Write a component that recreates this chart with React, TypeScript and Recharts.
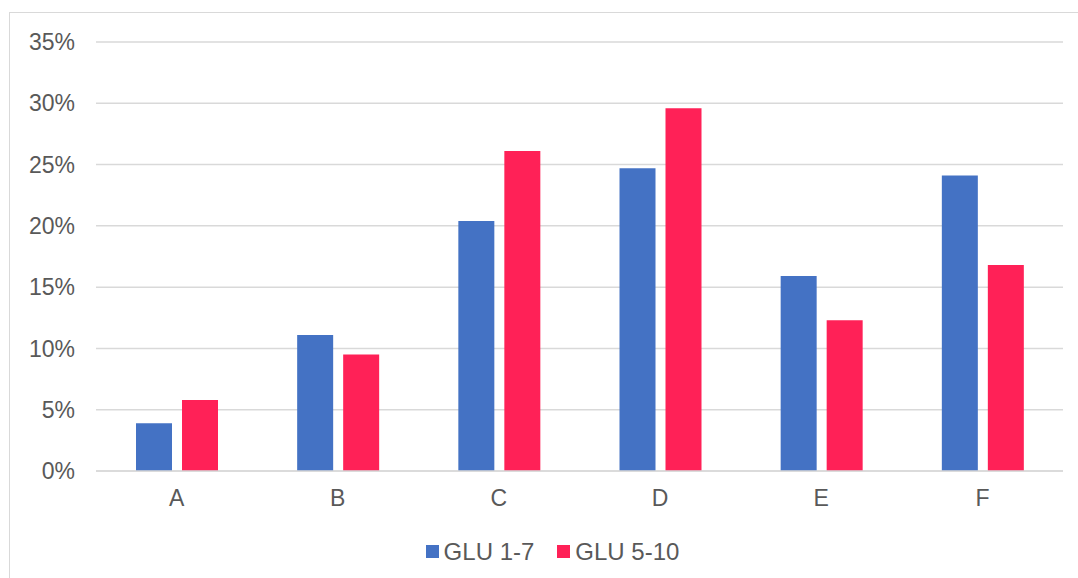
import React from "react";
import {
  BarChart,
  Bar,
  XAxis,
  YAxis,
  CartesianGrid,
  Legend,
} from "recharts";

const categories = ["A", "B", "C", "D", "E", "F"];
const glu17 = [3.9, 11.1, 20.4, 24.7, 15.9, 24.1];
const glu510 = [5.8, 9.5, 26.1, 29.6, 12.3, 16.8];
const yTicks = [0, 5, 10, 15, 20, 25, 30, 35];

const data = categories.map((c, i) => ({
  name: c,
  glu17: glu17[i],
  glu510: glu510[i],
}));

const FONT = '"Liberation Sans", Arial, sans-serif';
const TEXT = "#595959";

function renderLegend(props: any) {
  const { payload } = props;
  return (
    <div
      style={{
        display: "flex",
        justifyContent: "center",
        alignItems: "center",
        fontFamily: FONT,
        paddingTop: 17,
        paddingLeft: 42,
        lineHeight: "27px",
      }}
    >
      {payload.map((p: any, i: number) => (
        <div key={i} style={{ display: "flex", alignItems: "center", marginLeft: i > 0 ? 23 : 0 }}>
          <span style={{ width: 13, height: 13, background: p.color, display: "inline-block", marginRight: 5 }} />
          <span style={{ color: TEXT, fontSize: 24 }}>{p.value}</span>
        </div>
      ))}
    </div>
  );
}

export default function App() {
  return (
    <div style={{ position: "fixed", left: 0, top: 0, width: 1078, height: 578, background: "#fff", overflow: "hidden" }}>
      <div
        style={{
          position: "absolute",
          left: 9,
          top: 12,
          width: 1200,
          height: 700,
          border: "1px solid #d9d9d9",
        }}
      />
      <div style={{ position: "absolute", left: 0, top: 0 }}>
        <BarChart
          width={1078}
          height={578}
          data={data}
          margin={{ top: 42, right: 15, bottom: 0, left: 0 }}
          barSize={36}
          barGap={10}
        >
          <CartesianGrid vertical={false} stroke="#d9d9d9" strokeWidth={1.5} />
          <XAxis
            dataKey="name"
            tickLine={false}
            axisLine={{ stroke: "#d9d9d9", strokeWidth: 1.5 }}
            tickSize={0}
            tickMargin={19}
            height={50}
            tick={{ fill: TEXT, fontSize: 23, fontFamily: FONT }}
          />
          <YAxis
            domain={[0, 35]}
            ticks={yTicks}
            width={96}
            axisLine={false}
            tickLine={false}
            tickSize={0}
            tickMargin={21}
            tickFormatter={(v: number) => `${v}%`}
            tick={{ fill: TEXT, fontSize: 23, fontFamily: FONT }}
          />
          <Legend verticalAlign="bottom" height={57} content={renderLegend} />
          <Bar dataKey="glu17" name="GLU 1-7" fill="#4472C4" isAnimationActive={false} />
          <Bar dataKey="glu510" name="GLU 5-10" fill="#FF2157" isAnimationActive={false} />
        </BarChart>
      </div>
    </div>
  );
}
